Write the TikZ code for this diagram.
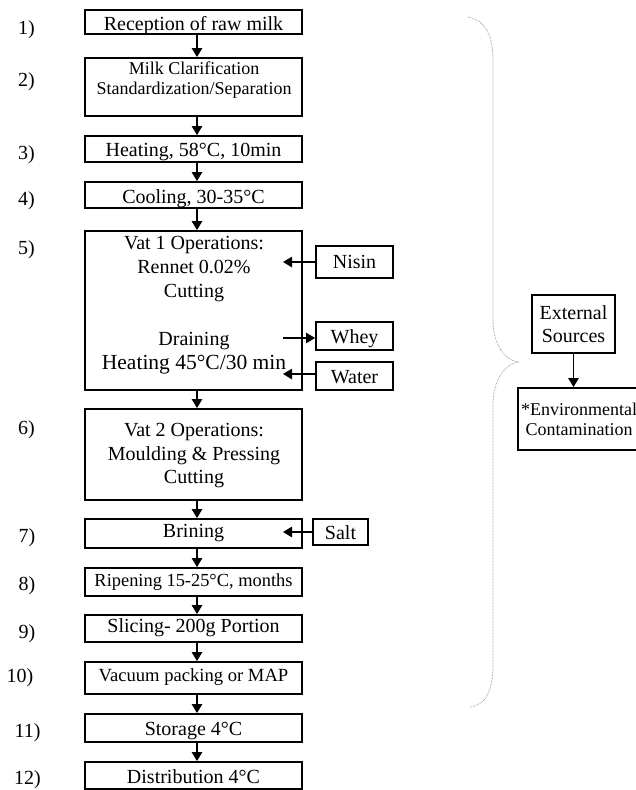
\documentclass[tikz,border=0pt]{standalone}
\usepackage{fontspec}
\setmainfont{Liberation Serif}
\usetikzlibrary{arrows.meta}
\begin{document}
\begin{tikzpicture}[x=1pt,y=-1pt,
  every node/.style={inner sep=0pt, font=\fontsize{20}{24}\selectfont},
  stepbox/.style={draw, line width=1.9pt, minimum width=217pt, text depth=0pt},
  sidebox/.style={draw, line width=1.9pt},
  flow/.style={line width=1.2pt, -{Triangle[length=9pt,width=10.5pt]}},
  brace/.style={black!40, line width=0.8pt, dash pattern=on 0.6pt off 0.9pt}
]
\useasboundingbox (0,0) rectangle (636,790);

% process steps
\node[stepbox, minimum height=24pt, text height=17.4pt] (s1) at (193.5,22) {Reception of raw milk};
\node[stepbox, minimum height=58pt] (s2) at (193.5,87) {};
\node[align=center, font=\fontsize{18}{19.5}\selectfont] (s2txt) at (194,80) {Milk Clarification\\Standardization/Separation};
\node[stepbox, minimum height=26pt, text height=15.4pt] (s3) at (193.5,149) {Heating, 58°C, 10min};
\node[stepbox, minimum height=26pt, text height=16.6pt] (s4) at (193.5,195) {Cooling, 30-35°C};
\node[stepbox, minimum height=159pt] (s5) at (193.5,310.5) {};
\node[align=center] (s5txt) at (194,305.5) {Vat 1 Operations:\\Rennet 0.02\%\\Cutting\\[24pt]Draining\\{\fontsize{21.5}{24}\selectfont Heating 45°C/30 min}};
\node[stepbox, minimum height=91pt] (s6) at (193.5,454.5) {};
\node[align=center, font=\fontsize{20}{23.5}\selectfont] (s6txt) at (194,456) {Vat 2 Operations:\\Moulding \& Pressing\\Cutting};
\node[stepbox, minimum height=29pt, text height=7.6pt] (s7) at (193.5,533.5) {Brining};
\node[stepbox, minimum height=28pt, text height=9.4pt, font=\fontsize{18.4}{22}\selectfont] (s8) at (193.5,582) {Ripening 15-25°C, months};
\node[stepbox, minimum height=27pt, text height=8.4pt] (s9) at (193.5,628.5) {Slicing- 200g Portion};
\node[stepbox, minimum height=32pt, text height=7.4pt, font=\fontsize{18.6}{22}\selectfont] (s10) at (193.5,678) {Vacuum packing or MAP};
\node[stepbox, minimum height=28pt, text height=14pt] (s11) at (193.5,728) {Storage 4°C};
\node[stepbox, minimum height=27pt, text height=15.6pt] (s12) at (193.5,775.5) {Distribution 4°C};

% step numbers
\node (n1) at (26.5,30) {1)};
\node (n2) at (26.5,82) {2)};
\node (n3) at (26.5,155) {3)};
\node (n4) at (26.5,201) {4)};
\node (n5) at (26.5,250) {5)};
\node (n6) at (26.5,430) {6)};
\node (n7) at (27,538) {7)};
\node (n8) at (27,586) {8)};
\node (n9) at (27,634) {9)};
\node (n10) at (20,678) {10)};
\node (n11) at (27.5,733) {11)};
\node (n12) at (27.5,780) {12)};

% flow between steps
\foreach \a/\b in {s1/s2,s2/s3,s3/s4,s4/s5,s5/s6,s6/s7,s7/s8,s8/s9,s9/s10,s10/s11,s11/s12}
  \draw[flow] ([xshift=3.5pt]\a.south) -- ([xshift=3.5pt]\b.north);

% inputs and outputs of the vats
\node[sidebox, minimum width=77pt, minimum height=32pt, text height=12.6pt, text depth=0pt] (nisin) at (354.5,262) {Nisin};
\node[sidebox, minimum width=77pt, minimum height=28pt, text height=14.6pt, text depth=0pt] (whey) at (354.5,336) {Whey};
\node[sidebox, minimum width=77pt, minimum height=28pt, text height=14.6pt, text depth=0pt] (water) at (354.5,376) {Water};
\node[sidebox, minimum width=55pt, minimum height=26pt, text height=14.6pt, text depth=0pt] (salt) at (340.5,532) {Salt};
\coordinate (nisinin) at (283,262);
\coordinate (wheyout) at (283,338);
\coordinate (waterin) at (283,374);
\coordinate (saltin) at (283,532);
\draw[flow] (nisin.west) -- (nisinin);
\draw[flow] (wheyout) -- (wheyout -| whey.west);
\draw[flow] (waterin -| water.west) -- (waterin);
\draw[flow] (salt.west) -- (saltin);

% external contamination sources
\node[sidebox, minimum width=83pt, minimum height=58pt, align=center, font=\fontsize{20}{23}\selectfont] (ext) at (573.5,324) {External\\Sources};
\node[sidebox, minimum width=122pt, minimum height=62pt, align=center, font=\fontsize{18}{20}\selectfont] (env) at (579,419) {*Environmental\\Contamination};
\draw[flow] (ext.south) -- (ext.south |- env.north);

% brace spanning steps 1 to 10
\draw[brace] (468,17) .. controls (485,20) and (493,35) .. (493,60) -- (493,320)
  .. controls (493,345) and (505,360) .. (518,362)
  .. controls (505,364) and (493,380) .. (493,405) -- (493,665)
  .. controls (493,690) and (486,705) .. (470,707);
\end{tikzpicture}
\end{document}
